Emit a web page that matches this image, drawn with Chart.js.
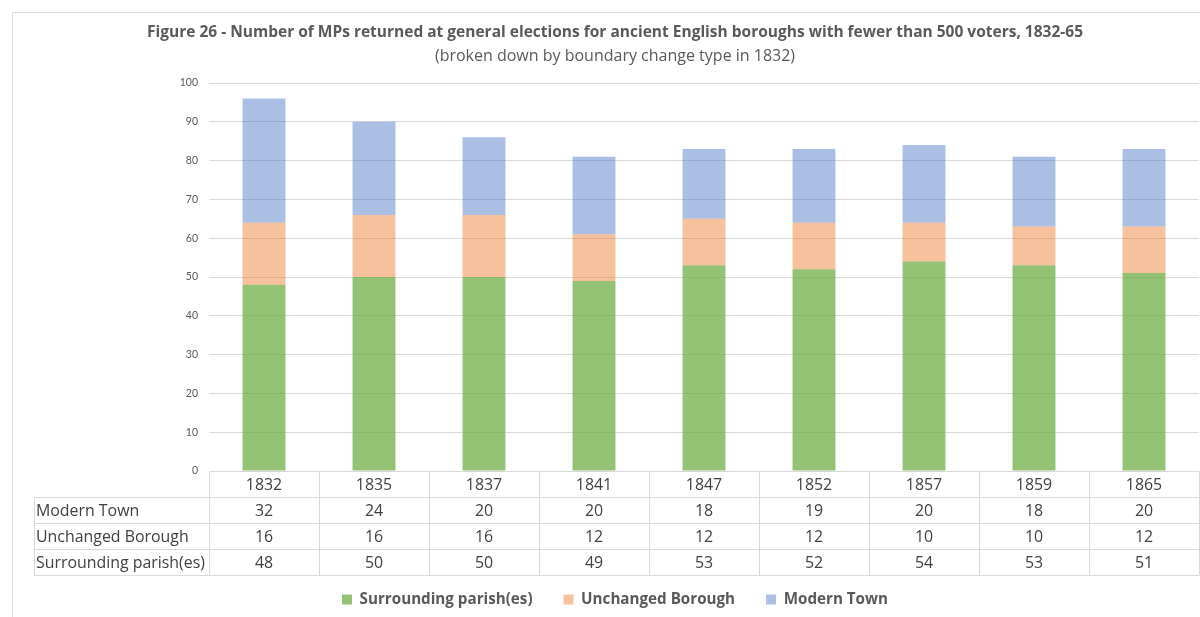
<!DOCTYPE html>
<html>
<head>
<meta charset="utf-8">
<script src="https://cdn.jsdelivr.net/npm/chart.js@4.4.1/dist/chart.umd.min.js"></script>
<style>
  html, body { margin: 0; padding: 0; overflow: hidden; background: #fff; }
  #wrap { width: 1218px; height: 617px; }
</style>
</head>
<body>
<div id="wrap"><canvas id="mpsChart"></canvas></div>
<script>
const years = ['1832', '1835', '1837', '1841', '1847', '1852', '1857', '1859', '1865'];
const surroundingParish = [48, 50, 50, 49, 53, 52, 54, 53, 51];
const unchangedBorough = [16, 16, 16, 12, 12, 12, 10, 10, 12];
const modernTown = [32, 24, 20, 20, 18, 19, 20, 18, 20];

const FONT = '"Open Sans", Lato, sans-serif';
const GRID = '#D9D9D9';

// rows of the data table under the axis, top to bottom
const tableRows = [
    { label: 'Modern Town', values: modernTown },
    { label: 'Unchanged Borough', values: unchangedBorough },
    { label: 'Surrounding parish(es)', values: surroundingParish }
];

// outer frame of the chart object
const framePlugin = {
    id: 'frame',
    beforeDraw(chart) {
        const ctx = chart.ctx;
        ctx.save();
        ctx.strokeStyle = '#DEDEDE';
        ctx.lineWidth = 1;
        ctx.strokeRect(12.5, 12.5, chart.width, chart.height + 20);
        ctx.restore();
    }
};

// Excel-style data table drawn under the plot, aligned with the category columns
const dataTablePlugin = {
    id: 'dataTable',
    afterDraw(chart) {
        const ctx = chart.ctx;
        const x = chart.scales.x;
        const area = chart.chartArea;
        const rowH = 26;
        const labelLeft = 34;
        const half = (x.getPixelForValue(1) - x.getPixelForValue(0)) / 2;
        const top = Math.round(area.bottom) + 0.5;
        const bottom = top + rowH * (tableRows.length + 1);

        ctx.save();
        ctx.strokeStyle = GRID;
        ctx.lineWidth = 1;
        ctx.beginPath();
        // header row spans only the category columns
        ctx.moveTo(area.left, top);
        ctx.lineTo(area.right, top);
        for (let r = 1; r <= tableRows.length + 1; r++) {
            const y = top + r * rowH;
            ctx.moveTo(labelLeft, y);
            ctx.lineTo(area.right, y);
        }
        ctx.moveTo(labelLeft + 0.5, top + rowH);
        ctx.lineTo(labelLeft + 0.5, bottom);
        for (let i = 0; i <= years.length; i++) {
            const xx = Math.round(x.getPixelForValue(0) - half + i * half * 2) + 0.5;
            ctx.moveTo(xx, top);
            ctx.lineTo(xx, bottom);
        }
        ctx.stroke();

        ctx.fillStyle = '#404040';
        ctx.font = '15.9px ' + FONT;
        ctx.textBaseline = 'middle';
        ctx.textAlign = 'center';
        years.forEach((yr, i) => {
            ctx.fillText(yr, x.getPixelForValue(i), top + rowH / 2 + 1);
        });
        tableRows.forEach((row, r) => {
            const cy = top + (r + 1) * rowH + rowH / 2 + 1;
            ctx.textAlign = 'left';
            ctx.fillText(row.label, labelLeft + 2, cy);
            ctx.textAlign = 'center';
            row.values.forEach((v, i) => {
                ctx.fillText(String(v), x.getPixelForValue(i), cy);
            });
        });
        ctx.restore();
    }
};

const ctx = document.getElementById('mpsChart').getContext('2d');

new Chart(ctx, {
    type: 'bar',
    data: {
        labels: years,
        datasets: [{
            label: 'Surrounding parish(es)',
            data: surroundingParish,
            backgroundColor: 'rgba(112, 173, 71, 0.75)'
        }, {
            label: 'Unchanged Borough',
            data: unchangedBorough,
            backgroundColor: 'rgba(237, 125, 49, 0.48)'
        }, {
            label: 'Modern Town',
            data: modernTown,
            backgroundColor: 'rgba(68, 114, 196, 0.45)'
        }]
    },
    options: {
        responsive: true,
        maintainAspectRatio: false,
        animation: false,
        layout: {
            padding: { left: 12, right: 0, top: 12, bottom: 0 }
        },
        datasets: {
            bar: {
                barPercentage: 0.39,
                categoryPercentage: 1
            }
        },
        scales: {
            x: {
                stacked: true,
                grid: { display: false },
                border: { display: false },
                ticks: { display: false },
                afterFit: (scale) => { scale.height = 89.8; }
            },
            y: {
                stacked: true,
                min: 0,
                max: 100,
                ticks: {
                    stepSize: 10,
                    padding: 11,
                    color: '#595959',
                    font: { family: 'Lato, sans-serif', size: 10.5 }
                },
                grid: { color: GRID, drawTicks: false },
                border: { display: false },
                afterFit: (scale) => { scale.width = 197; }
            },
            // empty axis keeping the plot's right edge inside the frame
            yRight: {
                position: 'right',
                display: true,
                grid: { display: false },
                border: { display: false },
                ticks: { display: false },
                afterFit: (scale) => { scale.width = 19; }
            }
        },
        plugins: {
            title: {
                display: true,
                text: 'Figure 26 - Number of MPs returned at general elections for ancient English boroughs with fewer than 500 voters, 1832-65',
                color: '#595959',
                font: { family: FONT, size: 15.5, weight: 'bold', lineHeight: 1.2 },
                padding: { top: 11.7, bottom: 0 }
            },
            subtitle: {
                display: true,
                text: '(broken down by boundary change type in 1832)',
                color: '#595959',
                font: { family: FONT, size: 16, lineHeight: 1.2 },
                padding: { top: 4.1, bottom: 17.4 }
            },
            legend: {
                position: 'bottom',
                labels: {
                    boxWidth: 10,
                    boxHeight: 10,
                    padding: 31,
                    color: '#595959',
                    font: { family: FONT, size: 15.2, weight: 'bold' }
                }
            },
            tooltip: { enabled: false }
        }
    },
    plugins: [framePlugin, dataTablePlugin]
});
</script>
</body>
</html>
